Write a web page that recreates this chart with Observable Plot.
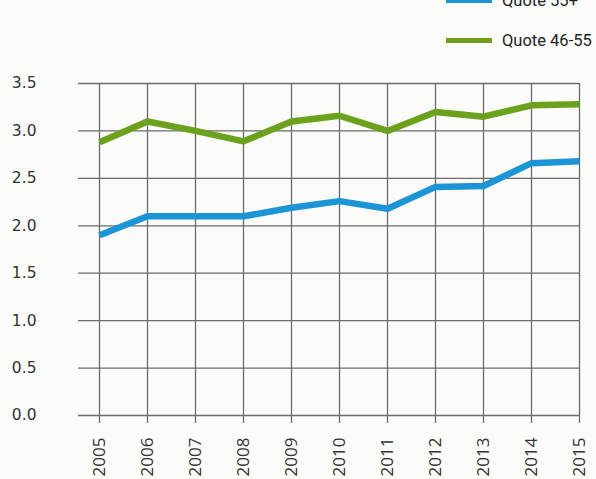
<!DOCTYPE html>
<html>
<head>
<meta charset="utf-8">
<script src="https://cdn.jsdelivr.net/npm/d3@7"></script>
<script src="https://cdn.jsdelivr.net/npm/@observablehq/plot@0.6"></script>
<style>
  html, body { margin: 0; padding: 0; background: #fbfbfa; overflow: hidden; width: 596px; height: 479px; }
  #legend { position: relative; height: 50px; width: 596px; font-family: Roboto, sans-serif; font-size: 16.5px; color: #222; }
  .item { position: absolute; left: 446px; display: flex; align-items: center; white-space: nowrap; }
  .sw { width: 46px; height: 5px; margin-right: 10px; }
  #chart svg { display: block; }
</style>
</head>
<body>
<div id="legend"></div>
<div id="chart"></div>
<script>
const years = [2005, 2006, 2007, 2008, 2009, 2010, 2011, 2012, 2013, 2014, 2015];
const quote55plus = [1.90, 2.10, 2.10, 2.10, 2.19, 2.26, 2.18, 2.41, 2.42, 2.66, 2.68];
const quote4655 = [2.88, 3.10, 3.00, 2.89, 3.10, 3.16, 3.00, 3.20, 3.15, 3.27, 3.28];
const seriesNames = ["Quote 55+", "Quote 46-55"];
const seriesColors = ["#1b95d6", "#6ba11c"];
const yTicks = [0, 0.5, 1.0, 1.5, 2.0, 2.5, 3.0, 3.5];

const data = [];
years.forEach((yr, i) => {
  data.push({year: yr, value: quote55plus[i], series: seriesNames[0]});
  data.push({year: yr, value: quote4655[i], series: seriesNames[1]});
});

// Legend (HTML)
const legend = document.getElementById("legend");
const tops = [-9, 31];
seriesNames.forEach((name, i) => {
  const it = document.createElement("div");
  it.className = "item";
  it.style.top = tops[i] + "px";
  const sw = document.createElement("div");
  sw.className = "sw";
  sw.style.background = seriesColors[i];
  const tx = document.createElement("span");
  tx.textContent = name;
  it.appendChild(sw);
  it.appendChild(tx);
  legend.appendChild(it);
});

const chart = Plot.plot({
  width: 596,
  height: 429,
  marginTop: 33,
  marginBottom: 64,
  marginLeft: 78,
  marginRight: 17,
  style: {background: "transparent", fontFamily: "'DejaVu Sans', sans-serif", color: "#333"},
  x: {domain: [2005, 2015], insetLeft: 21, label: null},
  y: {domain: [0, 3.5], label: null},
  color: {domain: seriesNames, range: seriesColors},
  marks: [
    Plot.gridY(yTicks, {stroke: "#6e6a6a", strokeOpacity: 1, strokeWidth: 1.3}),
    Plot.gridX(years, {stroke: "#6e6a6a", strokeOpacity: 1, strokeWidth: 1.3}),
    Plot.axisY(yTicks, {tickSize: 0, tickPadding: 42, tickFormat: d3.format(".1f"), fontSize: 15.5, fill: "#333"}),
    Plot.axisX(years, {tickSize: 8, tickPadding: 14, tickRotate: -90, tickFormat: d => String(d), fontSize: 17, fill: "#333", stroke: "#6e6a6a", strokeWidth: 1.3, fontFamily: "'Open Sans', sans-serif"}),
    Plot.line(data, {x: "year", y: "value", z: "series", stroke: "series", strokeWidth: 6.5, strokeLinejoin: "round", strokeLinecap: "butt"})
  ]
});
document.getElementById("chart").appendChild(chart);
</script>
</body>
</html>
